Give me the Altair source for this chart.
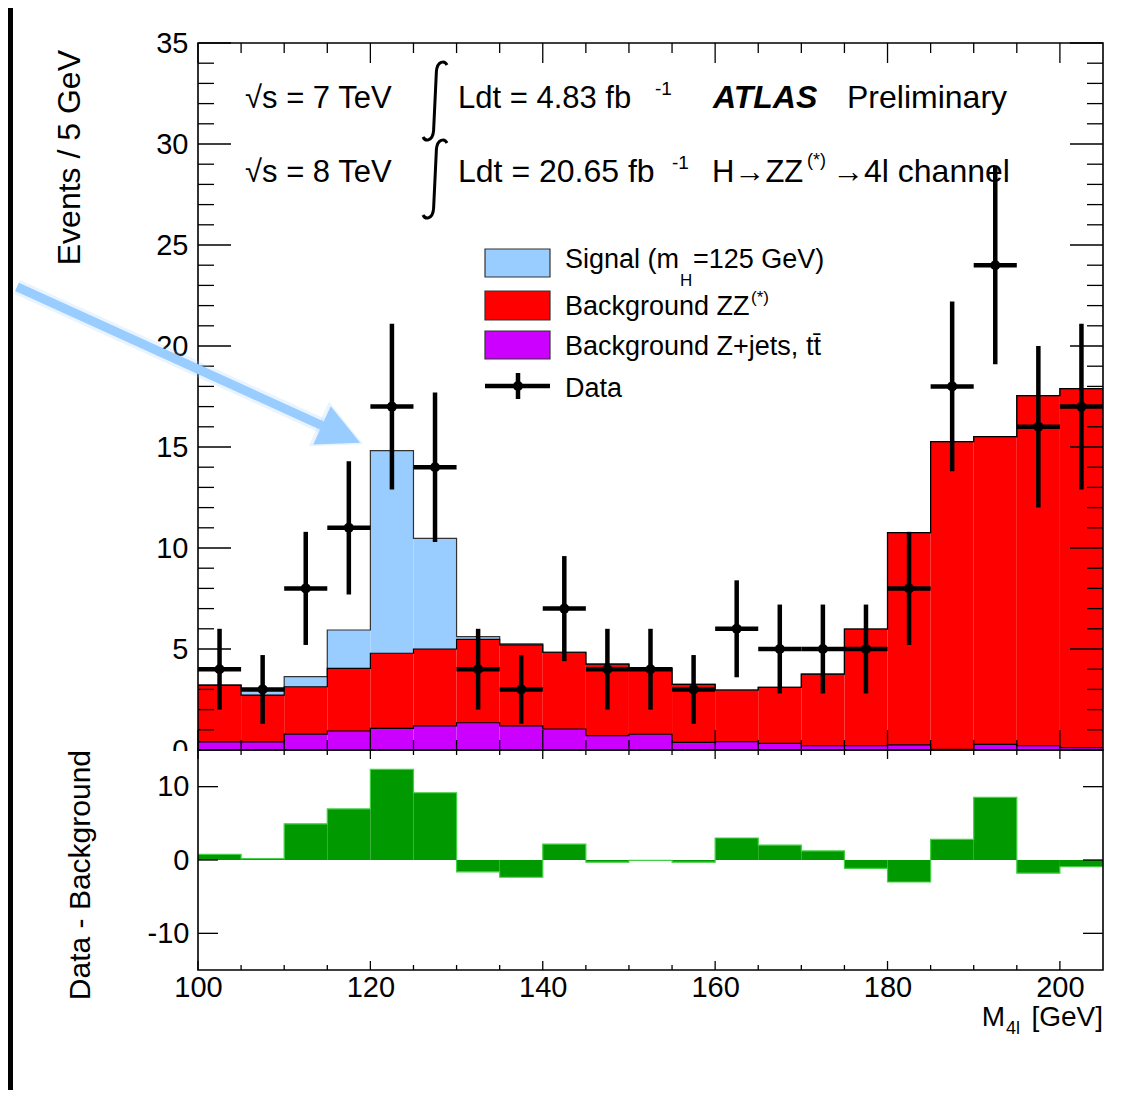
import altair as alt
import pandas as pd

# ---------------- data ----------------
bin_low = [100, 105, 110, 115, 120, 125, 130, 135, 140, 145, 150,
           155, 160, 165, 170, 175, 180, 185, 190, 195, 200]
BIN_W = 5
data_counts = [4, 3, 8, 11, 17, 14, 4, 3, 7, 4, 4, 3, 6, 5, 5, 5, 8, 18, 24, 16, 17]
data_err = [2.0, 1.7, 2.8, 3.3, 4.1, 3.7, 2.0, 1.7, 2.6, 2.0, 2.0,
            1.7, 2.4, 2.2, 2.2, 2.2, 2.8, 4.2, 4.9, 4.0, 4.1]
bkg_zjets_top = [0.40, 0.40, 0.79, 0.94, 1.07, 1.19, 1.35, 1.19, 1.04, 0.71, 0.78,
                 0.38, 0.41, 0.33, 0.21, 0.21, 0.25, 0.03, 0.28, 0.21, 0.12]
bkg_total_top = [3.20, 2.72, 3.13, 4.04, 4.79, 5.00, 5.48, 5.20, 4.84, 4.25, 4.05,
                 3.25, 2.97, 3.10, 3.76, 5.99, 10.76, 15.27, 15.51, 17.54, 17.89]
signal = [0.02, 0.25, 0.50, 1.90, 10.03, 5.48, 0.13, 0.05, 0.0, 0.0, 0.0,
          0.0, 0.0, 0.0, 0.0, 0.0, 0.0, 0.0, 0.0, 0.0, 0.0]
data_minus_bkg = [0.78, 0.18, 4.93, 6.96, 12.35, 9.17, -1.61, -2.35, 2.17, -0.30, -0.05,
                  -0.30, 3.00, 2.03, 1.24, -1.15, -3.00, 2.81, 8.53, -1.80, -0.92]

x_major = [100, 120, 140, 160, 180, 200]
x_minor = [105, 110, 115, 125, 130, 135, 145, 150, 155, 165, 170, 175, 185, 190, 195]
y_top_major = [0, 5, 10, 15, 20, 25, 30, 35]
y_top_minor = [v for v in range(1, 35) if v % 5 != 0]
y_bot_major = [-10, 0, 10]

arrow_start = [79.0, 22.93]   # GeV, events
arrow_base = [114.4, 16.06]
arrow_head = [116.6, 15.64]

# ---------------- styling ----------------
FONT = "Liberation Sans"
C_SIG = "#99ccff"
C_ZZ = "#ff0000"
C_ZJ = "#cc00ff"
C_GREEN = "#009900"
C_GREEN_LINE = "#44d044"
C_ARROW = "#99ccff"

W = 905
H1 = 707
H2 = 220

xscale = alt.Scale(domain=[100, 205], nice=False, zero=False)
y1scale = alt.Scale(domain=[0, 35], nice=False, zero=False)
y2scale = alt.Scale(domain=[-15, 15], nice=False, zero=False)

LBL = "'' + datum.value"
y1axis = alt.Axis(values=y_top_major, ticks=False, domain=False, grid=False,
                  labelFontSize=29, labelPadding=10, labelFlush=False,
                  labelOverlap=False, title=None, labelExpr=LBL)
xaxis_b = alt.Axis(values=x_major, ticks=False, domain=False, grid=False,
                   labelFontSize=29, labelPadding=3, labelFlush=False,
                   labelOverlap=False, title=None, labelExpr=LBL)
y2axis = alt.Axis(values=y_bot_major, ticks=False, domain=False, grid=False,
                  labelFontSize=29, labelPadding=9, labelFlush=False,
                  labelOverlap=False, title=None, labelExpr=LBL)

df = pd.DataFrame({
    "lo": bin_low,
    "hi": [b + BIN_W for b in bin_low],
    "c": [b + BIN_W / 2 for b in bin_low],
    "n": data_counts,
    "elo": [n - e for n, e in zip(data_counts, data_err)],
    "ehi": [n + e for n, e in zip(data_counts, data_err)],
    "zero": [0.0] * len(bin_low),
    "zj": bkg_zjets_top,
    "bkg": bkg_total_top,
    "sigtop": [b + s for b, s in zip(bkg_total_top, signal)],
    "diff": data_minus_bkg,
})


def step_df(vals):
    xs = bin_low + [bin_low[-1] + BIN_W]
    ys = list(vals) + [vals[-1]]
    return pd.DataFrame({"x": xs, "y": ys})


one = pd.DataFrame({"a": [0]})


def txt(s, x, y, size=28, align="left", font=FONT, **kw):
    return alt.Chart(one).mark_text(
        text=s, align=align, baseline="alphabetic", fontSize=size,
        font=font, color="black", **kw
    ).encode(x=alt.value(x), y=alt.value(y))


def box(x1, x2, y1, y2, **kw):
    return alt.Chart(one).mark_rect(**kw).encode(
        x=alt.value(x1), x2=alt.value(x2), y=alt.value(y1), y2=alt.value(y2))


XT = lambda f: alt.X(f, type="quantitative", scale=xscale, axis=None)
XB = lambda f: alt.X(f, type="quantitative", scale=xscale, axis=xaxis_b)
Y1 = lambda f: alt.Y(f, type="quantitative", scale=y1scale, axis=y1axis)
Y2 = lambda f: alt.Y(f, type="quantitative", scale=y2scale, axis=y2axis)


def outline(vals, Xf, Yf, color="black", width=1.2):
    return alt.Chart(step_df(vals)).mark_line(
        interpolate="step-after", color=color, strokeWidth=width
    ).encode(x=Xf("x"), y=Yf("y"))


def xticks(vals, length, H, Xf):
    d = pd.DataFrame({"v": vals})
    bot = alt.Chart(d).mark_rule(color="black", strokeWidth=1.3).encode(
        x=Xf("v"), y=alt.value(H), y2=alt.value(H - length))
    top = alt.Chart(d).mark_rule(color="black", strokeWidth=1.3).encode(
        x=Xf("v"), y=alt.value(0), y2=alt.value(length))
    return [bot, top]


def yticks(vals, length, Yf):
    d = pd.DataFrame({"v": vals})
    left = alt.Chart(d).mark_rule(color="black", strokeWidth=1.3).encode(
        y=Yf("v"), x=alt.value(0), x2=alt.value(length))
    right = alt.Chart(d).mark_rule(color="black", strokeWidth=1.3).encode(
        y=Yf("v"), x=alt.value(W - length), x2=alt.value(W))
    return [left, right]


# ---------------- top panel ----------------
base = alt.Chart(df)
zj_rect = base.mark_rect(color=C_ZJ).encode(x=XT("lo"), x2="hi", y=Y1("zero"), y2="zj")
zz_rect = base.mark_rect(color=C_ZZ).encode(x=XT("lo"), x2="hi", y=Y1("zj"), y2="bkg")
sig_rect = base.mark_rect(color=C_SIG).encode(x=XT("lo"), x2="hi", y=Y1("bkg"), y2="sigtop")

sig_line = outline([b + s for b, s in zip(bkg_total_top, signal)], XT, Y1, color="#333333")
zz_line = outline(bkg_total_top, XT, Y1)
zj_line = outline(bkg_zjets_top, XT, Y1)

ticks_top = (xticks(x_major, 20, H1, XT) + xticks(x_minor, 10, H1, XT)
             + yticks(y_top_major, 33, Y1) + yticks(y_top_minor, 16, Y1))

err_v = base.mark_rule(color="black", strokeWidth=4.5).encode(x=XT("c"), y=Y1("elo"), y2="ehi")
err_h = base.mark_rule(color="black", strokeWidth=4.5).encode(x=XT("lo"), x2="hi", y=Y1("n"))
dots = base.mark_point(filled=True, color="black", size=100, opacity=1, shape="circle").encode(
    x=XT("c"), y=Y1("n"))

frame_top = box(0, W, 0, H1, fillOpacity=0, stroke="black", strokeWidth=1.6)
strip_top = box(-190, -185, -35, H1, color="black")

# arrow
arrow_df = pd.DataFrame({"x": [arrow_start[0]], "y": [arrow_start[1]],
                         "x2": [arrow_base[0]], "y2": [arrow_base[1]]})
head_df = pd.DataFrame({"x": [arrow_head[0]], "y": [arrow_head[1]]})
arrow_glow = alt.Chart(arrow_df).mark_rule(color=C_ARROW, strokeWidth=15, opacity=0.22,
                                           strokeCap="butt").encode(
    x=XT("x"), x2="x2", y=Y1("y"), y2="y2")
arrow_shaft = alt.Chart(arrow_df).mark_rule(color=C_ARROW, strokeWidth=9,
                                            strokeCap="butt").encode(
    x=XT("x"), x2="x2", y=Y1("y"), y2="y2")
HEAD_SHAPE = "M1,0L-1,-1L-1,1Z"
head_glow = alt.Chart(head_df).mark_point(shape=HEAD_SHAPE, size=2400, angle=24.6, filled=True,
                                          color=C_ARROW, opacity=0.22).encode(x=XT("x"), y=Y1("y"))
head = alt.Chart(head_df).mark_point(shape=HEAD_SHAPE, size=1764, angle=24.6, filled=True,
                                     color=C_ARROW, opacity=1).encode(x=XT("x"), y=Y1("y"))

# integral signs drawn as thin stroked paths
INT_SHAPE = ("M0.30,-0.90 C0.24,-1.02 0.06,-1.01 0.035,-0.74 "
             "L-0.035,0.74 C-0.06,1.01 -0.24,1.02 -0.30,0.90")


def integral(x, y):
    return alt.Chart(one).mark_point(shape=INT_SHAPE, size=6400, filled=False,
                                     strokeWidth=3, color="black", opacity=1).encode(
        x=alt.value(x), y=alt.value(y))


# annotations (pixel offsets from plot origin)
texts_top = [
    txt("√s = 7 TeV", 47, 65, 31),
    txt("√s = 8 TeV", 47, 139, 31),
    integral(237, 58),
    integral(237, 136),
    txt("Ldt = 4.83 fb", 260, 65, 31),
    txt("-1", 457, 52, 19),
    txt("ATLAS", 515, 65, 32, fontWeight="bold", fontStyle="italic"),
    txt("Preliminary", 649, 65, 32),
    txt("Ldt = 20.65 fb", 260, 139, 32),
    txt("-1", 474, 126, 19),
    txt("H→ZZ", 514, 139, 31),
    txt("(*)", 609, 123, 18),
    txt("→4l channel", 634, 139, 32),
    alt.Chart(one).mark_text(text="Events / 5 GeV", align="right", baseline="alphabetic",
                             fontSize=32, font=FONT, angle=270, color="black").encode(
        x=alt.value(-118), y=alt.value(7)),
]

legend = [
    box(287, 352, 206, 234, color=C_SIG, stroke="#333333", strokeWidth=1.2),
    box(287, 352, 248, 277, color=C_ZZ, stroke="#333333", strokeWidth=1.2),
    box(287, 352, 288, 316, color=C_ZJ, stroke="#333333", strokeWidth=1.2),
    alt.Chart(one).mark_rule(color="black", strokeWidth=4.5).encode(
        x=alt.value(287), x2=alt.value(352), y=alt.value(343)),
    alt.Chart(one).mark_rule(color="black", strokeWidth=4.5).encode(
        x=alt.value(320), y=alt.value(330), y2=alt.value(356)),
    alt.Chart(one).mark_point(filled=True, color="black", size=100, opacity=1).encode(
        x=alt.value(320), y=alt.value(343)),
    txt("Signal (m", 367, 225, 27),
    txt("H", 482, 243, 17),
    txt("=125 GeV)", 495, 225, 27),
    txt("Background ZZ", 367, 272, 27),
    txt("(*)", 553, 260, 17),
    txt("Background Z+jets, tt\u0304", 367, 312, 27),
    txt("Data", 367, 354, 27),
]

top = alt.layer(
    zj_rect, zz_rect, sig_rect, sig_line, zz_line, zj_line,
    *ticks_top, err_v, err_h, dots, frame_top, strip_top,
    *texts_top, *legend, arrow_glow, head_glow, arrow_shaft, head,
).properties(width=W, height=H1)

# ---------------- bottom panel ----------------
green = base.mark_rect(color=C_GREEN).encode(x=XB("lo"), x2="hi", y=Y2("zero"), y2="diff")
green_line = outline(data_minus_bkg, XB, Y2, color=C_GREEN_LINE, width=1.2)

ticks_bot = (xticks(x_major, 9, H2, XB) + xticks(x_minor, 5, H2, XB)
             + yticks(y_bot_major, 20, Y2))
frame_bot = box(0, W, 0, H2, fillOpacity=0, stroke="black", strokeWidth=1.6)
strip_bot = box(-190, -185, 0, 340, color="black")
cover = box(-50, -3, 1, 14, color="white")

texts_bot = [
    alt.Chart(one).mark_text(text="Data - Background", align="right", baseline="alphabetic",
                             fontSize=30, font=FONT, angle=270, color="black").encode(
        x=alt.value(-108), y=alt.value(0)),
    txt("M", 807, 276, 28, align="right"),
    txt("4l", 808, 284, 18),
    txt("[GeV]", 905, 276, 28, align="right"),
]

bottom = alt.layer(
    green, green_line, *ticks_bot, frame_bot, strip_bot, cover, *texts_bot
).properties(width=W, height=H2)

chart = alt.vconcat(top, bottom, spacing=0, bounds="flush").properties(
    padding={"left": 0, "top": 0, "right": 0, "bottom": 0}
).configure_view(strokeWidth=0).configure_axis(labelFont=FONT, labelColor="black")

chart.save("out.html", embed_options={"renderer": "svg", "actions": False})
